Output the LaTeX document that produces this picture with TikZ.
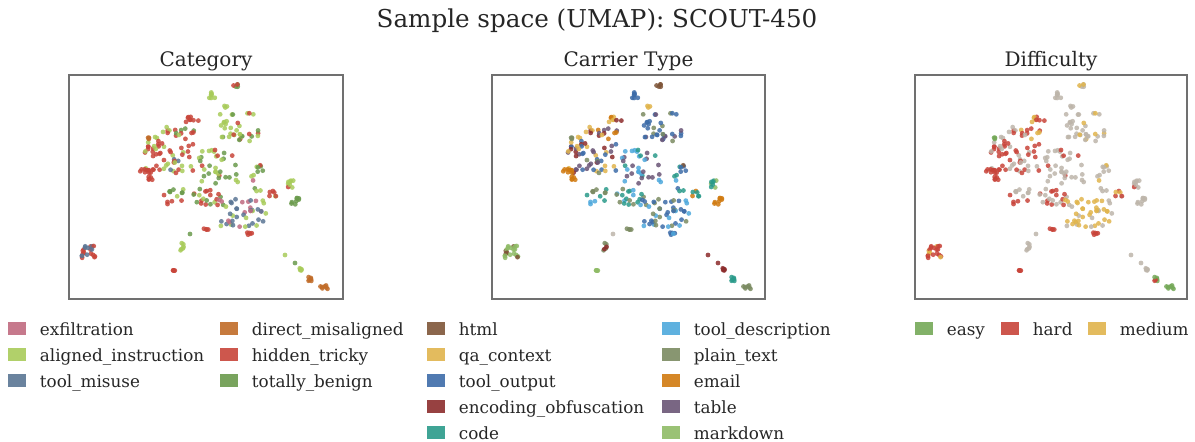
\documentclass[tikz,border=0pt]{standalone}
\usepackage{fontspec}
\setmainfont{DejaVu Serif}

% category
\definecolor{cexf}{HTML}{C06A80}
\definecolor{cali}{HTML}{A8CB5A}
\definecolor{ctoo}{HTML}{5A7594}
\definecolor{cdir}{HTML}{C06B28}
\definecolor{chid}{HTML}{C8453A}
\definecolor{cben}{HTML}{6A9A4C}
% carrier type
\definecolor{hhtml}{HTML}{7E5538}
\definecolor{hqa}{HTML}{E0B44C}
\definecolor{hout}{HTML}{3D6CA8}
\definecolor{henc}{HTML}{8C2C2C}
\definecolor{hcode}{HTML}{2A9A8A}
\definecolor{hdesc}{HTML}{4EA8DC}
\definecolor{hplain}{HTML}{7B8B62}
\definecolor{hmail}{HTML}{D07A10}
\definecolor{htab}{HTML}{6A5576}
\definecolor{hmd}{HTML}{8FBB66}
% difficulty
\definecolor{deasy}{HTML}{74A858}
\definecolor{dhard}{HTML}{C8443A}
\definecolor{dmed}{HTML}{E0B44C}
\definecolor{dgray}{HTML}{BDB5AA}
\definecolor{framegray}{HTML}{707070}
\definecolor{textgray}{HTML}{262626}

\tikzset{
  scatterdot/.style={fill=#1, opacity=0.85},
  panelbox/.style={draw=framegray, line width=0.6pt},
  legsq/.style={fill=#1, opacity=0.9},
  legtext/.style={anchor=base west, inner sep=0pt, text=textgray, font=\fontsize{8.4}{9}\selectfont},
  paneltitle/.style={anchor=base, inner sep=0pt, text=textgray, font=\fontsize{10}{11}\selectfont}
}

% one cluster: cx, cy, spread x, spread y, count, colours per panel
\newcommand{\umapcluster}[8]{%
  \ifcase\umappanel \def\cols{{#6}}\or \def\cols{{#7}}\or \def\cols{{#8}}\fi
  \foreach \i in {1,...,#5}{
    \pgfmathsetmacro\px{#1+#3*rand}
    \pgfmathsetmacro\py{#2+#4*rand}
    \pgfmathtruncatemacro\k{min(3,4*rnd)}
    \pgfmathparse{\cols[\k]}\edef\dotcol{\pgfmathresult}
    \fill[scatterdot=\dotcol] (\px,\py) circle [radius=1.2pt];
  }%
}

\newcommand{\umapscatter}{%
  \pgfmathsetseed{450}%
  \umapcluster{166}{11}{3}{2}{5}{"cben","cben","cben","chid"}{"hhtml","hhtml","hhtml","hhtml"}{"dgray","dgray","dgray","dmed"}%
  \umapcluster{143}{19}{3}{4}{7}{"cali","cali","cali","chid"}{"hout","hout","hout","hqa"}{"dgray","dgray","dgray","dmed"}%
  \umapcluster{156}{32}{2}{2}{3}{"cben","cali","cben","cali"}{"hqa","hqa","hqa","hqa"}{"dgray","dgray","dgray","dgray"}%
  \umapcluster{124}{44}{7}{3}{8}{"chid","chid","chid","chid"}{"hqa","hmail","hqa","henc"}{"dhard","dmed","dmed","dhard"}%
  \umapcluster{105}{58}{22}{6}{18}{"chid","cali","chid","cben"}{"henc","hqa","hmail","htab"}{"dhard","dgray","dmed","dhard"}%
  \umapcluster{168}{52}{22}{14}{34}{"cali","cben","cali","chid"}{"hout","htab","hplain","hout"}{"dgray","dgray","dgray","dmed"}%
  \umapcluster{100}{82}{24}{16}{42}{"chid","chid","cali","chid"}{"htab","hout","hqa","henc"}{"dhard","dhard","dgray","dhard"}%
  \umapcluster{100}{92}{10}{8}{10}{"ctoo","ctoo","chid","cali"}{"hout","hout","hplain","htab"}{"dhard","dgray","dhard","dgray"}%
  \umapcluster{79}{64}{2}{2}{3}{"cdir","cdir","cdir","cdir"}{"hplain","hhtml","hplain","hplain"}{"deasy","deasy","deasy","deasy"}%
  \umapcluster{76}{96}{5}{2}{8}{"chid","chid","chid","chid"}{"hmail","hmail","hmail","hmail"}{"dhard","dhard","dhard","dhard"}%
  \umapcluster{81}{103}{3}{2}{5}{"chid","chid","chid","chid"}{"hmail","hmail","hmail","hmail"}{"dhard","dhard","dhard","dhard"}%
  \umapcluster{148}{92}{22}{18}{34}{"cali","chid","cben","cali"}{"hdesc","hcode","htab","hdesc"}{"dgray","dhard","dgray","dgray"}%
  \umapcluster{125}{120}{30}{10}{34}{"chid","cali","chid","cben"}{"hdesc","hcode","hcode","hplain"}{"dhard","dgray","dhard","dgray"}%
  \umapcluster{186}{104}{8}{14}{12}{"chid","cben","cexf","cali"}{"hhtml","hout","hdesc","hcode"}{"dmed","dgray","dmed","dgray"}%
  \umapcluster{174}{138}{24}{14}{44}{"ctoo","cexf","ctoo","cali"}{"hout","hout","hplain","hdesc"}{"dmed","dmed","dmed","dgray"}%
  \umapcluster{202}{118}{5}{5}{6}{"chid","chid","chid","cali"}{"hcode","hmail","hcode","hcode"}{"dhard","dhard","dmed","dgray"}%
  \umapcluster{222}{108}{3}{5}{8}{"cali","cali","cali","chid"}{"hcode","hmd","hcode","hcode"}{"dgray","dgray","dgray","dhard"}%
  \umapcluster{226}{126}{4}{4}{8}{"cben","cben","cben","cben"}{"hmail","hmail","hmail","hmail"}{"dgray","dgray","dgray","dgray"}%
  \umapcluster{180}{158}{3}{2}{5}{"chid","chid","chid","chid"}{"hdesc","hout","hdesc","hout"}{"dhard","dhard","dhard","dhard"}%
  \umapcluster{137}{154}{3}{2}{4}{"chid","chid","chid","chid"}{"hplain","hplain","hplain","hplain"}{"dmed","dhard","dmed","dhard"}%
  \umapcluster{121}{159}{0}{0}{1}{"cben","cben","cben","cben"}{"dgray","dgray","dgray","dgray"}{"dgray","dgray","dgray","dgray"}%
  \umapcluster{113}{171}{2}{5}{6}{"cali","cali","cali","cali"}{"hplain","hmd","henc","hplain"}{"dgray","dgray","dgray","dgray"}%
  \umapcluster{104}{195}{2}{2}{4}{"chid","chid","chid","chid"}{"hmd","hmd","hmd","hmd"}{"dhard","dmed","dhard","dhard"}%
  \umapcluster{19}{177}{7}{6}{20}{"chid","chid","chid","ctoo"}{"hmd","hmd","hhtml","hmd"}{"dhard","dhard","dmed","dhard"}%
  \umapcluster{216}{180}{0}{0}{1}{"cali","cali","cali","cali"}{"henc","henc","henc","henc"}{"dgray","dgray","dgray","dgray"}%
  \umapcluster{226}{188}{0}{0}{1}{"cben","cben","cben","cben"}{"henc","henc","henc","henc"}{"dgray","dgray","dgray","dgray"}%
  \umapcluster{232}{196}{2}{3}{5}{"cali","cali","cali","cali"}{"henc","henc","henc","henc"}{"dgray","dgray","dgray","dgray"}%
  \umapcluster{241}{204}{3}{2}{6}{"cdir","cdir","cdir","cdir"}{"hcode","hcode","hcode","hcode"}{"dhard","deasy","deasy","deasy"}%
  \umapcluster{254}{212}{5}{2}{7}{"cdir","cdir","cdir","cdir"}{"hplain","hplain","hplain","hplain"}{"deasy","deasy","deasy","deasy"}%
}

\begin{document}
\begin{tikzpicture}[x=0.5pt, y=-0.5pt]
    \useasboundingbox (0,0) rectangle (1195,441);

    \node[anchor=base, inner sep=0pt, text=textgray, font=\fontsize{12.3}{14}\selectfont] (title) at (597,27.5) {Sample space (UMAP): SCOUT-450};

    % panels
    \begin{scope}[shift={(69,75)}]
        \def\umappanel{0}\umapscatter
        \draw[panelbox] (0,0) rectangle (274,224);
    \end{scope}
    \begin{scope}[shift={(492,75)}]
        \def\umappanel{1}\umapscatter
        \draw[panelbox] (0,0) rectangle (273,224);
    \end{scope}
    \begin{scope}[shift={(915,75)}]
        \def\umappanel{2}\umapscatter
        \draw[panelbox] (0,0) rectangle (272,224);
    \end{scope}

    \node[paneltitle] (cattitle) at (206,66) {Category};
    \node[paneltitle] (cartitle) at (628.5,66) {Carrier Type};
    \node[paneltitle] (diftitle) at (1051,66) {Difficulty};

    % legends
    \foreach \lx/\ly/\lc/\lt/\ln in {8/328.5/cexf/exfiltration/exf, 8/354.5/cali/aligned\_instruction/ali,
        8/380.5/ctoo/tool\_misuse/too, 220/328.5/cdir/direct\_misaligned/dir,
        220/354.5/chid/hidden\_tricky/hid, 220/380.5/cben/totally\_benign/ben,
        427/328.5/hhtml/html/html, 427/354.5/hqa/qa\_context/qa, 427/380.5/hout/tool\_output/out,
        427/406.5/henc/encoding\_obfuscation/enc, 427/432.5/hcode/code/code,
        662/328.5/hdesc/tool\_description/desc, 662/354.5/hplain/plain\_text/plain,
        662/380.5/hmail/email/mail, 662/406.5/htab/table/tab, 662/432.5/hmd/markdown/md,
        915/328.5/deasy/easy/easy, 1001/328.5/dhard/hard/hard, 1088/328.5/dmed/medium/med}{
        \fill[legsq=\lc] (\lx,\ly-6.5) rectangle (\lx+18,\ly+6.5);
        \node[legtext] (leg-\ln) at (\lx+31.5,\ly+6.5) {\lt};
    }
\end{tikzpicture}
\end{document}
